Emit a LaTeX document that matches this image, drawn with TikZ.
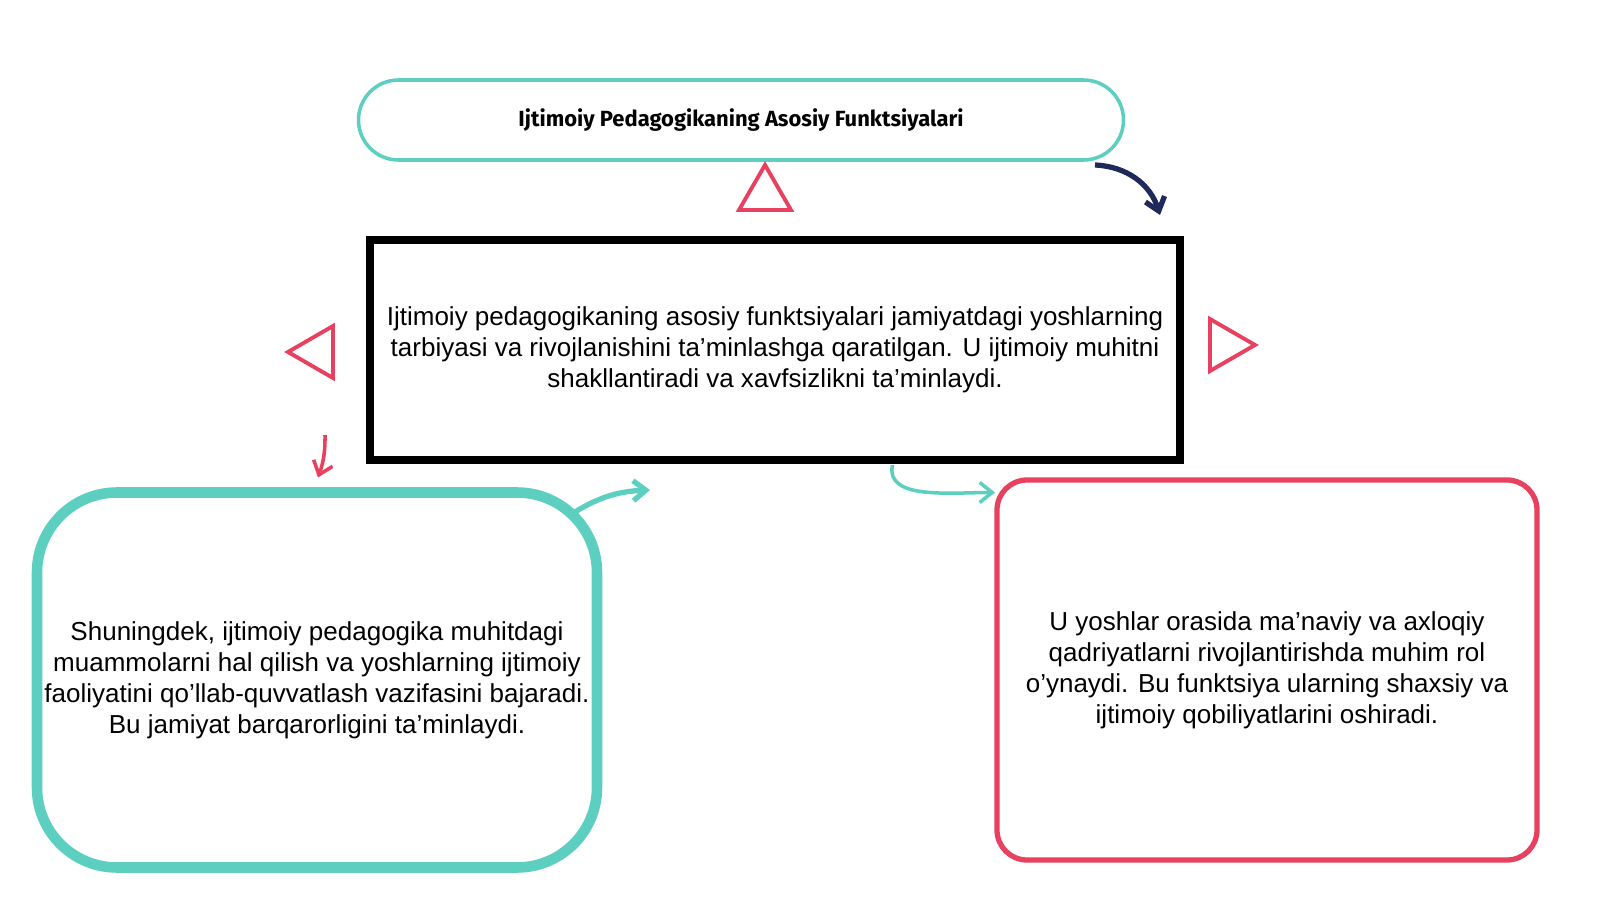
\documentclass[tikz,border=0pt]{standalone}
\usepackage{fontspec}
\setmainfont{Liberation Sans}
\newfontfamily\titlefont{Fira Sans}
\usetikzlibrary{shapes.geometric,arrows.meta}

\begin{document}
\begin{tikzpicture}[
  txt/.style={align=center, font=\fontsize{14.8}{17.6}\selectfont},
  tri/.style={isosceles triangle, isosceles triangle apex angle=60, draw=red!75!pink, line width=2.2pt, minimum size=0.9cm, inner sep=0pt},
  arr/.style={-{Straight Barb[length=2.5mm,width=4mm]}, line width=2pt}
]
\fill[white] (0,0) rectangle (32,18);
\definecolor{teal1}{HTML}{5CCFC0}
\definecolor{red1}{HTML}{E8405F}
\definecolor{navy1}{HTML}{1F2A5A}

\node[draw=teal1, line width=2pt, rounded corners=0.8cm, minimum width=15.3cm, minimum height=1.6cm, font=\titlefont\bfseries\fontsize{12.5}{14}\selectfont] (title) at (14.82,15.6) {Ijtimoiy Pedagogikaning Asosiy Funktsiyalari};
\node[draw=black, line width=5pt, minimum width=16.2cm, minimum height=4.4cm, txt] (main) at (15.5,11.0) {Ijtimoiy pedagogikaning asosiy funktsiyalari jamiyatdagi yoshlarning\\tarbiyasi va rivojlanishini ta'minlashga qaratilgan. U ijtimoiy muhitni\\shakllantiradi va xavfsizlikni ta'minlaydi.};
\node[draw=teal1, line width=6pt, rounded corners=1.6cm, minimum width=11.2cm, minimum height=7.5cm, txt] (left) at (6.34,4.4) {Shuningdek, ijtimoiy pedagogika muhitdagi\\muammolarni hal qilish va yoshlarning ijtimoiy\\faoliyatini qo'llab-quvvatlash vazifasini bajaradi.\\Bu jamiyat barqarorligini ta'minlaydi.};
\node[draw=red1, line width=3pt, rounded corners=0.6cm, minimum width=10.8cm, minimum height=7.6cm, txt] (right) at (25.34,4.6) {U yoshlar orasida ma'naviy va axloqiy\\qadriyatlarni rivojlantirishda muhim rol\\o'ynaydi. Bu funktsiya ularning shaxsiy va\\ijtimoiy qobiliyatlarini oshiradi.};

\node[tri, draw=red1, shape border rotate=90] (triT) at (15.3,14.1) {};
\node[tri, draw=red1, shape border rotate=180] (triL) at (6.36,10.96) {};
\node[tri, draw=red1, shape border rotate=-30] (triR) at (24.5,11.1) {};

\coordinate (a1) at (21.9,14.7);
\coordinate (a2) at (23.2,13.7);
\coordinate (b1) at (6.5,9.3);
\coordinate (b2) at (6.36,8.45);
\coordinate (c1) at (11.4,7.7);
\coordinate (c2) at (13.0,8.2);
\coordinate (d1) at (17.85,8.7);
\coordinate (d2) at (19.9,8.15);

\draw[arr, navy1, line width=3pt] (a1) to[bend left=35] (a2);
\draw[arr, red1] (b1) to[bend left=10] (b2);
\draw[arr, teal1, line width=3pt] (c1) to[bend left=15] (c2);
\draw[arr, teal1] (d1) .. controls (17.7,8.0) and (19.0,8.15) .. (d2);
\end{tikzpicture}
\end{document}
